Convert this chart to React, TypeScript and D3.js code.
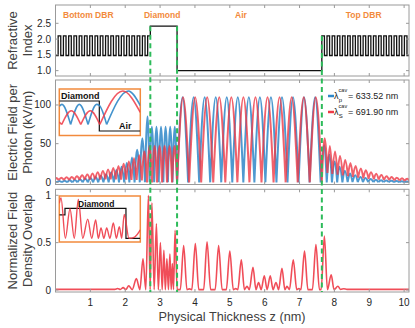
import * as d3 from 'd3'

const W = 415
const H = 328

// physical thickness axis (the figure labels it nm)
const Z_DOMAIN = [0, 10.14]
const X_TICKS = [1, 2, 3, 4, 5, 6, 7, 8, 9, 10]
const INDEX_TICKS = [1.0, 1.5, 2.0, 2.5]
const FIELD_TICKS = [0, 50, 100]
const OVERLAP_TICKS = [0, 0.5, 1]

// diamond start, diamond/air, air/top DBR
const INTERFACES = [2.72, 3.487, 7.64]

const N_LOW = 1.48
const N_HIGH = 2.1
const N_DIAMOND = 2.41
const N_AIR = 1.0

// layer starts, alternating low/high (bottom) and high/low (top)
const BOTTOM_DBR_EDGES = [0, 0.076, 0.151, 0.227, 0.302, 0.378, 0.453, 0.529, 0.604, 0.68, 0.756, 0.831, 0.907, 0.982,
  1.058, 1.133, 1.209, 1.284, 1.36, 1.436, 1.511, 1.587, 1.662, 1.738, 1.813, 1.889, 1.964, 2.04, 2.116, 2.191,
  2.267, 2.342, 2.418, 2.493, 2.569, 2.644]
const TOP_DBR_EDGES = [7.64, 7.714, 7.788, 7.862, 7.936, 8.01, 8.084, 8.158, 8.232, 8.306, 8.38, 8.454, 8.528, 8.602,
  8.676, 8.75, 8.824, 8.898, 8.972, 9.046, 9.12, 9.194, 9.268, 9.342, 9.416, 9.49, 9.564, 9.638, 9.712, 9.786,
  9.86, 9.934, 10.008, 10.082]

// |E| extrema, [z, kV/m]
const FIELD_P = [
  [0, 0.8], [0.036, 0], [0.11, 1.8], [0.185, 0], [0.259, 2.2], [0.334, 0], [0.408, 2.6], [0.482, 0], [0.557, 3.1],
  [0.631, 0], [0.706, 3.8], [0.78, 0], [0.854, 4.6], [0.929, 0], [1.003, 5.7], [1.078, 0], [1.152, 7], [1.226, 0],
  [1.301, 8.5], [1.375, 0], [1.45, 10.5], [1.524, 0], [1.598, 13], [1.673, 0], [1.747, 16], [1.822, 0], [1.896, 20],
  [1.97, 0], [2.045, 25], [2.119, 0], [2.194, 32], [2.268, 0], [2.342, 42], [2.417, 0], [2.491, 57], [2.566, 0],
  [2.64, 85], [2.7, 0],
  [2.764, 72], [2.83, 0], [2.896, 72], [2.961, 0], [3.027, 72], [3.093, 0], [3.158, 72], [3.224, 0], [3.29, 72],
  [3.356, 0], [3.421, 72], [3.487, 0],
  [3.645, 110], [3.804, 0], [3.962, 110], [4.121, 0], [4.279, 110], [4.437, 0], [4.596, 110], [4.754, 0],
  [4.913, 110], [5.071, 0], [5.229, 110], [5.388, 0], [5.546, 110], [5.705, 0], [5.863, 110], [6.021, 0],
  [6.18, 110], [6.338, 0], [6.497, 110], [6.655, 0], [6.813, 110], [6.972, 0], [7.13, 110], [7.289, 0],
  [7.447, 110], [7.605, 0],
  [7.71, 48], [7.78, 0], [7.86, 36], [7.93, 0], [8.01, 27], [8.08, 0], [8.15, 20], [8.23, 0], [8.3, 15], [8.38, 0.2],
  [8.45, 11.5], [8.52, 0.3], [8.6, 9], [8.67, 0.3], [8.75, 7], [8.82, 0.3], [8.89, 5.5], [8.97, 0.3], [9.04, 4.3],
  [9.12, 0.3], [9.19, 3.4], [9.26, 0.3], [9.34, 2.8], [9.41, 0.3], [9.49, 2.3], [9.56, 0.3], [9.63, 1.9],
  [9.71, 0.3], [9.78, 1.6], [9.86, 0.3], [9.93, 1.4], [10.0, 0.3], [10.08, 1.2], [10.15, 0.3],
]
const FIELD_S = [
  [0, 4], [0.02, 5.5], [0.095, 3], [0.169, 6], [0.244, 3], [0.318, 6.5], [0.392, 3], [0.467, 7], [0.541, 3.2],
  [0.616, 8], [0.69, 3.3], [0.764, 9], [0.839, 3.4], [0.913, 10], [0.988, 3.5], [1.062, 11.5], [1.136, 3.6],
  [1.211, 13], [1.285, 3.7], [1.36, 14.5], [1.434, 3.8], [1.508, 16.5], [1.583, 3.8], [1.657, 18.5], [1.732, 3.8],
  [1.806, 21], [1.88, 3.6], [1.955, 24], [2.029, 3.4], [2.104, 27], [2.178, 3.2], [2.252, 31], [2.327, 3],
  [2.401, 35], [2.476, 2.5], [2.55, 40], [2.625, 0],
  [2.698, 47], [2.77, 0], [2.842, 47], [2.913, 0], [2.985, 47], [3.057, 0], [3.129, 47], [3.2, 0], [3.272, 47],
  [3.344, 0], [3.415, 47], [3.487, 0],
  [3.66, 110], [3.833, 0], [4.006, 110], [4.179, 0], [4.352, 110], [4.525, 0], [4.698, 110], [4.871, 0],
  [5.044, 110], [5.217, 0], [5.39, 110], [5.563, 0], [5.736, 110], [5.909, 0], [6.082, 110], [6.255, 0],
  [6.428, 110], [6.601, 0], [6.774, 110], [6.947, 0], [7.12, 110], [7.293, 0], [7.466, 110], [7.639, 0],
  [7.72, 57], [7.8, 12], [7.87, 47], [7.94, 11], [8.02, 40], [8.09, 10], [8.16, 34], [8.24, 9], [8.31, 29], [8.39, 8],
  [8.46, 25], [8.53, 7], [8.61, 21], [8.68, 6], [8.76, 18], [8.83, 5.2], [8.9, 15.5], [8.98, 4.6], [9.05, 13],
  [9.13, 4], [9.2, 11], [9.27, 3.5], [9.35, 9.5], [9.42, 3.1], [9.5, 8], [9.57, 2.8], [9.64, 7], [9.72, 2.5],
  [9.79, 6], [9.87, 2.3], [9.94, 5.2], [10.01, 2.1], [10.09, 4.5], [10.16, 2],
]

// normalized overlap, bottom panel
const OVERLAP = [
  [0, 0.007], [1.7, 0.007], [1.785, 0.016], [1.86, 0.006], [1.94, 0.025], [2.02, 0.005], [2.1, 0.045], [2.2, 0.004],
  [2.32, 0.12], [2.42, 0.004], [2.51, 0.33], [2.59, 0.004], [2.665, 1.0], [2.715, 0.004], [2.765, 0.92],
  [2.83, 0.004], [2.894, 0.7], [2.95, 0.004], [3.009, 0.5], [3.06, 0.004], [3.109, 0.42], [3.15, 0.004],
  [3.195, 0.33], [3.24, 0.004], [3.281, 0.38], [3.32, 0.004], [3.352, 0.28], [3.385, 0.004], [3.43, 0.63],
  [3.49, 0.004], [3.58, 0.004], [3.676, 0.47], [3.77, 0.004], [3.84, 0.012], [3.91, 0.004], [4.011, 0.49],
  [4.11, 0.004], [4.25, 0.004], [4.347, 0.51], [4.45, 0.004], [4.58, 0.004], [4.679, 0.47], [4.78, 0.004],
  [4.9, 0.004], [5.0, 0.41], [5.1, 0.004], [5.17, 0.015], [5.23, 0.004], [5.33, 0.32], [5.42, 0.004],
  [5.493, 0.04], [5.56, 0.004], [5.665, 0.24], [5.75, 0.004], [5.825, 0.08], [5.9, 0.004], [5.989, 0.15],
  [6.07, 0.004], [6.16, 0.15], [6.24, 0.004], [6.324, 0.08], [6.4, 0.004], [6.496, 0.23], [6.58, 0.004],
  [6.639, 0.04], [6.71, 0.004], [6.82, 0.32], [6.92, 0.004], [6.98, 0.015], [7.04, 0.004], [7.143, 0.41],
  [7.24, 0.004], [7.37, 0.004], [7.47, 0.48], [7.57, 0.004], [7.62, 0.004], [7.713, 0.57], [7.8, 0.004],
  [7.908, 0.16], [7.99, 0.004], [8.1, 0.04], [8.18, 0.006], [8.27, 0.014], [8.36, 0.007], [10.2, 0.007],
]

// insets, u = fraction of inset width
const INSET_FIELD_P = [[0, 60], [0.032, 66], [0.14, 0], [0.247, 66], [0.355, 0], [0.462, 66], [0.494, 63], [0.585, 0], [0.852, 110], [1.0, 62]]
const INSET_FIELD_S = [[0, 8], [0.03, 0], [0.148, 45], [0.265, 0], [0.383, 45], [0.5, 0], [0.784, 110], [1.0, 40]]
const INSET_FIELD_STEP = [[0, N_DIAMOND], [0.494, N_AIR], [1, N_AIR]]
const INSET_OVERLAP = [
  [0, 0.85], [0.021, 0.98], [0.075, 0.01], [0.132, 0.72], [0.185, 0.01], [0.235, 0.94], [0.29, 0.01], [0.351, 0.47],
  [0.4, 0.01], [0.449, 0.45], [0.482, 0.01], [0.515, 0.26], [0.55, 0.01], [0.585, 0.26], [0.625, 0.01],
  [0.667, 0.38], [0.705, 0.01], [0.741, 0.29], [0.77, 0.01], [0.802, 0.58], [0.86, 0.01], [0.93, 0.04], [1.0, 0.21],
]
const INSET_OVERLAP_STEP = [[0, N_HIGH], [0.07, N_DIAMOND], [0.823, N_AIR], [1, N_AIR]]

const REGION_LABELS = [
  { text: 'Bottom DBR', z: 0.94 },
  { text: 'Diamond', z: 3.06 },
  { text: 'Air', z: 5.32 },
  { text: 'Top DBR', z: 8.84 },
]

const LEGEND = [
  { color: '#2f87c8', sub: 'p', value: '633.52 nm' },
  { color: '#ee3a46', sub: 'S', value: '691.90 nm' },
]

const BLUE = '#2f87c8'
const RED = '#ee3a46'
const ORANGE = '#f28a3c'
const GREEN = '#2dbb5a'
const FRAME = '#9a9a9a'
const FONT = "'Liberation Sans', Arial, sans-serif"

// split at local minima so each lobe gets sharp (|E|-like) minima
function lobePath(points, fx, fy) {
  const line = d3.line().x(d => fx(d[0])).y(d => fy(d[1])).curve(d3.curveMonotoneX)
  const segs = []
  let cur = [points[0]]
  for (let i = 1; i < points.length; i++) {
    cur.push(points[i])
    const isMin = i < points.length - 1 && points[i][1] < points[i - 1][1] && points[i][1] <= points[i + 1][1]
    if (isMin) {
      segs.push(cur)
      cur = [points[i]]
    }
  }
  segs.push(cur)
  return segs.map(s => line(s)).join('')
}

export default function App() {
  const x = d3.scaleLinear().domain(Z_DOMAIN).range([55.5, 409])

  const panels = [
    { key: 'n', top: 5, bottom: 76, domain: [0.83, 3.08], ticks: INDEX_TICKS, fmt: d3.format('.1f'), title: ['Refractive', 'Index'] },
    { key: 'e', top: 80, bottom: 184.5, domain: [-2.8, 132.3], ticks: FIELD_TICKS, fmt: d => String(d), title: ['Electric Field per', 'Photon (kV/m)'] },
    { key: 'o', top: 189.3, bottom: 292, domain: [-0.021, 1.063], ticks: OVERLAP_TICKS, fmt: d => String(d), title: ['Normalized Field', 'Density Overlap'] },
  ]
  const ys = panels.map(p => d3.scaleLinear().domain(p.domain).range([p.bottom, p.top]))
  const [yN, yE, yO] = ys

  const profile = [
    ...BOTTOM_DBR_EDGES.map((z, i) => [z, i % 2 === 0 ? N_LOW : N_HIGH]),
    [INTERFACES[0], N_DIAMOND],
    [INTERFACES[1], N_AIR],
    ...TOP_DBR_EDGES.map((z, i) => [z, i % 2 === 0 ? N_HIGH : N_LOW]),
  ]
  profile.push([Z_DOMAIN[1] + 0.2, profile[profile.length - 1][1]])
  const stepLine = d3.line().x(d => x(d[0])).y(d => yN(d[1])).curve(d3.curveStepAfter)
  const overlapLine = d3.line().x(d => x(d[0])).y(d => yO(d[1])).curve(d3.curveMonotoneX)

  // inset 1 (field)
  const i1u = d3.scaleLinear().domain([0, 1]).range([59.3, 140.3])
  const i1y = d3.scaleLinear().domain([0, 110]).range([124.5, 91])
  const i1n = d3.scaleLinear().domain([N_AIR, N_DIAMOND]).range([131, 101])
  // inset 2 (overlap)
  const i2y = d3.scaleLinear().domain([0, 1]).range([238.7, 197])
  const i2n = d3.scaleLinear().domain([N_AIR, N_DIAMOND]).range([238.3, 208.3])
  const insetStep = ny => d3.line().x(d => i1u(d[0])).y(d => ny(d[1])).curve(d3.curveStepAfter)

  const xl = x.range()

  return (
    <svg width={W} height={H} style={{ position: 'absolute', left: 0, top: 0, background: '#fff' }} fontFamily={FONT}>
      <defs>
        {panels.map(p => (
          <clipPath id={`clip-${p.key}`} key={p.key}>
            <rect x={xl[0]} y={p.top} width={xl[1] - xl[0]} height={p.bottom - p.top} />
          </clipPath>
        ))}
        <clipPath id="clip-i1"><rect x={59.3} y={89} width={81} height={46.5} /></clipPath>
        <clipPath id="clip-i2"><rect x={59.3} y={196} width={81} height={46} /></clipPath>
      </defs>

      {/* data */}
      <g clipPath="url(#clip-n)">
        <path d={stepLine(profile)} fill="none" stroke="#111" strokeWidth={1.3} />
      </g>
      <g clipPath="url(#clip-e)">
        <path d={lobePath(FIELD_P, x, yE)} fill="none" stroke={BLUE} strokeWidth={2} strokeOpacity={0.85} strokeLinejoin="round" />
        <path d={lobePath(FIELD_S, x, yE)} fill="none" stroke={RED} strokeWidth={2} strokeOpacity={0.8} strokeLinejoin="round" />
      </g>
      <g clipPath="url(#clip-o)">
        <path d={overlapLine(OVERLAP)} fill="none" stroke={RED} strokeWidth={1.6} strokeOpacity={0.9} strokeLinejoin="round" />
      </g>

      {/* frames, ticks, labels */}
      {panels.map((p, pi) => {
        const y = ys[pi]
        return (
          <g key={p.key}>
            <rect x={xl[0]} y={p.top} width={xl[1] - xl[0]} height={p.bottom - p.top} fill="none" stroke={FRAME} strokeWidth={1} />
            {X_TICKS.map(t => (
              <g key={t}>
                <line x1={x(t)} x2={x(t)} y1={p.bottom} y2={p.bottom - 3} stroke={FRAME} />
                <line x1={x(t)} x2={x(t)} y1={p.top} y2={p.top + 3} stroke={FRAME} />
              </g>
            ))}
            {p.ticks.map(t => (
              <g key={t}>
                <line x1={xl[0]} x2={xl[0] + 3} y1={y(t)} y2={y(t)} stroke={FRAME} />
                <line x1={xl[1]} x2={xl[1] - 3} y1={y(t)} y2={y(t)} stroke={FRAME} />
                <text x={51} y={y(t)} dy="0.35em" textAnchor="end" fontSize={10} fill="#262626">{p.fmt(t)}</text>
              </g>
            ))}
            {p.title.map((s, li) => (
              <text key={s} transform={`translate(${li === 0 ? 12.5 : 27.5},${(p.top + p.bottom) / 2}) rotate(-90)`}
                dy="0.35em" textAnchor="middle" fontSize={13} fill="#404040">{s}</text>
            ))}
          </g>
        )
      })}
      {X_TICKS.map(t => (
        <text key={t} x={x(t)} y={306} textAnchor="middle" fontSize={10} fill="#262626">{t}</text>
      ))}
      <text x={232} y={321} textAnchor="middle" fontSize={12.7} fill="#404040">Physical Thickness z (nm)</text>

      {REGION_LABELS.map(r => (
        <text key={r.text} x={x(r.z)} y={18} textAnchor="middle" fontSize={8.5} fontWeight="bold" fill={ORANGE}>{r.text}</text>
      ))}

      {/* inset: field at diamond/air interface */}
      <rect x={59.3} y={89} width={81} height={46.5} fill="#fff" stroke={ORANGE} strokeWidth={1.5} />
      <g clipPath="url(#clip-i1)">
        <path d={insetStep(i1n)(INSET_FIELD_STEP)} fill="none" stroke="#111" strokeWidth={1.2} />
        <path d={lobePath(INSET_FIELD_P, i1u, i1y)} fill="none" stroke={BLUE} strokeWidth={1.6} strokeOpacity={0.9} />
        <path d={lobePath(INSET_FIELD_S, i1u, i1y)} fill="none" stroke={RED} strokeWidth={1.6} strokeOpacity={0.85} />
      </g>
      <text x={61} y={99} fontSize={9} fontWeight="bold" fill="#111">Diamond</text>
      <text x={119} y={128.5} fontSize={9} fontWeight="bold" fill="#111">Air</text>

      {/* inset: overlap inside diamond */}
      <rect x={59.3} y={196} width={81} height={46} fill="#fff" stroke={ORANGE} strokeWidth={1.5} />
      <g clipPath="url(#clip-i2)">
        <path d={insetStep(i2n)(INSET_OVERLAP_STEP)} fill="none" stroke="#111" strokeWidth={1.2} />
        <path d={d3.line().x(d => i1u(d[0])).y(d => i2y(d[1])).curve(d3.curveMonotoneX)(INSET_OVERLAP)}
          fill="none" stroke={RED} strokeWidth={1.4} strokeOpacity={0.9} />
      </g>
      <text x={78} y={206.5} fontSize={8.5} fontWeight="bold" fill="#111">Diamond</text>

      {/* interfaces */}
      {INTERFACES.map((z, i) => (
        <line key={z} x1={x(z)} x2={x(z)} y1={yN(i === 2 ? N_HIGH : N_DIAMOND)} y2={panels[2].bottom}
          stroke={GREEN} strokeWidth={2} strokeDasharray="5 3.5" />
      ))}

      {/* legend */}
      {LEGEND.map((l, i) => {
        const ly = 96 + i * 16
        return (
          <g key={l.sub} fill="#222">
            <line x1={328} x2={334} y1={ly} y2={ly} stroke={l.color} strokeWidth={2.5} />
            <text x={334} y={ly + 3.3} fontSize={9}>λ</text>
            <text x={338.6} y={ly - 3.6} fontSize={5.5}>cav</text>
            <text x={338.8} y={ly + 6.3} fontSize={6}>{l.sub}</text>
            <text x={348} y={ly + 3.3} fontSize={9}>= {l.value}</text>
          </g>
        )
      })}
    </svg>
  )
}
